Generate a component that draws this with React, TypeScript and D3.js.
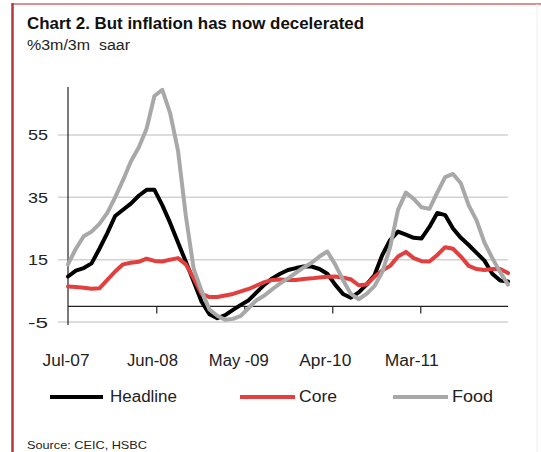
import React, { useEffect, useRef } from "react";
import * as d3 from "d3";

// Monthly readings, Jul-07 through Mar-12 (%3m/3m saar)
const startMonth = new Date(2007, 6, 1);
const endMonth = new Date(2012, 3, 1);
const months = d3.timeMonths(startMonth, endMonth);

const headline = [
  9.6, 11.5, 12.3, 13.8, 18.5, 23.5, 29, 31, 33, 35.5,
  37.4, 37.4, 32.5, 26.8, 20.5, 14.3, 8, 1.5, -2.5, -3.8,
  -2.8, -1.1, 0.5, 2, 4.5, 7, 9, 10.5, 11.7, 12.3,
  12.8, 12.8, 12, 10.5, 7, 4, 2.8, 4.5, 7, 10,
  16.5, 21.3, 24, 23, 22, 21.8, 25.5, 30, 29.3, 25,
  22, 19.7, 17.2, 14.7, 10.5, 8.3, 8,
];

const core = [
  6.4, 6.2, 6, 5.7, 5.8, 8.5, 11.2, 13.5, 14, 14.3,
  15.3, 14.6, 14.4, 15, 15.5, 13.5, 9, 4, 3, 3,
  3.5, 4, 4.8, 5.6, 6.7, 7.8, 8.5, 8.6, 8.5, 8.5,
  8.8, 9, 9.3, 9.5, 9.6, 9.2, 8.7, 6.8, 7, 9.5,
  11.5, 13, 16, 17.5, 15.5, 14.5, 14.4, 16.5, 19, 18.5,
  16, 13, 12, 11.7, 12, 12, 10.7,
];

const food = [
  13.5, 18.5, 22.5, 24, 26.5, 30, 35, 40.5, 46.5, 51,
  57, 67.5, 69.5, 62, 50, 29, 12, 5, -1, -3,
  -4.3, -4, -3, -0.5, 2, 3.5, 5.5, 7.4, 9, 10.8,
  12.5, 14, 16, 17.6, 13.5, 8.5, 4, 2.3, 4, 6.5,
  11, 19, 31, 36.5, 34.5, 31.8, 31.3, 36.5, 41.5, 42.5,
  39.5, 32.4, 27.6, 20.5, 15.5, 11, 7,
];

const yTicks = [-5, 15, 35, 55];
const xLabelIndex = [0, 11, 22, 33, 44];
const xLabels = ["Jul-07", "Jun-08", "May -09", "Apr-10", "Mar-11"];

const seriesNames = ["Headline", "Core", "Food"];
const seriesColors = ["#000000", "#e2403f", "#a8a8a8"];

const FONT = "'Liberation Sans', Arial, Helvetica, sans-serif";

export default function App() {
  const ref = useRef<SVGSVGElement>(null);

  useEffect(() => {
    const svg = d3.select(ref.current);
    svg.selectAll("*").remove();

    const W = 541;
    const H = 452;
    const left = 68;
    const right = 508;

    svg.append("rect").attr("width", W).attr("height", H).attr("fill", "#fff");

    // Frame
    svg.append("line").attr("x1", 12).attr("x2", W).attr("y1", 4).attr("y2", 4)
      .attr("stroke", "#cf6a6a").attr("stroke-width", 1.5);
    svg.append("line").attr("x1", 12.5).attr("x2", 12.5).attr("y1", 3).attr("y2", H)
      .attr("stroke", "#b2383c").attr("stroke-width", 2.5);
    svg.append("line").attr("x1", 537).attr("x2", 537).attr("y1", 4).attr("y2", H)
      .attr("stroke", "#eeeeee").attr("stroke-width", 1);

    // Title and unit
    svg.append("text").attr("x", 27).attr("y", 29)
      .attr("font-family", FONT).attr("font-size", 17).attr("font-weight", "bold")
      .attr("fill", "#111")
      .attr("textLength", 337).attr("lengthAdjust", "spacingAndGlyphs")
      .text("Chart 2. But inflation has now decelerated");
    svg.append("text").attr("x", 27).attr("y", 50)
      .attr("font-family", FONT).attr("font-size", 14).attr("fill", "#222")
      .attr("textLength", 103).attr("lengthAdjust", "spacingAndGlyphs")
      .attr("xml:space", "preserve")
      .text("%3m/3m  saar");

    const x = d3.scaleLinear().domain([0, months.length - 1]).range([left, right]);
    const y = d3.scaleLinear().domain([-5, 70.4]).range([322, 87]);

    // Gridlines with their left tick stubs
    const g = svg.append("g");
    yTicks.forEach((t) => {
      g.append("line").attr("x1", 58).attr("x2", right)
        .attr("y1", y(t)).attr("y2", y(t))
        .attr("stroke", "#d2d2d2").attr("stroke-width", 1.5);
      g.append("text").attr("x", 48).attr("y", y(t) + 5.5)
        .attr("text-anchor", "end")
        .attr("font-family", FONT).attr("font-size", 15).attr("fill", "#222")
        .attr("textLength", 20).attr("lengthAdjust", "spacingAndGlyphs")
        .text(String(t));
    });

    // Y axis
    g.append("line").attr("x1", left).attr("x2", left).attr("y1", y(70.4)).attr("y2", 325)
      .attr("stroke", "#222").attr("stroke-width", 1.2);

    // Zero line with tick marks dividing the span in five
    g.append("line").attr("x1", left).attr("x2", right).attr("y1", y(0)).attr("y2", y(0))
      .attr("stroke", "#222").attr("stroke-width", 1.4);
    const span = months.length - 1;
    [1, 2, 3, 4].forEach((k) => {
      const xv = x((span * k) / 5 + 0.1);
      g.append("line").attr("x1", xv).attr("x2", xv).attr("y1", y(0)).attr("y2", y(0) + 7)
        .attr("stroke", "#222").attr("stroke-width", 1.2);
    });

    // X labels
    xLabelIndex.forEach((idx, i) => {
      g.append("text").attr("x", x(idx) - 2).attr("y", 366)
        .attr("text-anchor", "middle")
        .attr("font-family", FONT).attr("font-size", 16).attr("fill", "#222")
        .attr("textLength", [47, 51, 60, 52, 54][i]).attr("lengthAdjust", "spacingAndGlyphs")
        .attr("xml:space", "preserve")
        .text(xLabels[i]);
    });

    // Series lines
    const line = d3.line<number>().x((_, i) => x(i)).y((d) => y(d));
    [headline, core, food].forEach((s, i) => {
      svg.append("path").attr("d", line(s) as string)
        .attr("fill", "none").attr("stroke", seriesColors[i])
        .attr("stroke-width", 4).attr("stroke-linejoin", "round")
        .attr("stroke-linecap", "round");
    });

    // Legend
    const legendX = [[50, 103, 110, 67], [240, 295, 299, 38], [393, 448, 452, 41]];
    seriesNames.forEach((name, i) => {
      const [x1, x2, tx, tw] = legendX[i];
      svg.append("line").attr("x1", x1).attr("x2", x2).attr("y1", 397).attr("y2", 397)
        .attr("stroke", seriesColors[i]).attr("stroke-width", 4);
      svg.append("text").attr("x", tx).attr("y", 402)
        .attr("font-family", FONT).attr("font-size", 16).attr("fill", "#222")
        .attr("textLength", tw).attr("lengthAdjust", "spacingAndGlyphs")
        .text(name);
    });

    // Source
    svg.append("text").attr("x", 27).attr("y", 449)
      .attr("font-family", FONT).attr("font-size", 11.5).attr("fill", "#222")
      .attr("textLength", 120).attr("lengthAdjust", "spacingAndGlyphs")
      .text("Source: CEIC, HSBC");
  }, []);

  return (
    <svg
      ref={ref}
      width={541}
      height={452}
      style={{ position: "absolute", left: 0, top: 0 }}
    />
  );
}
